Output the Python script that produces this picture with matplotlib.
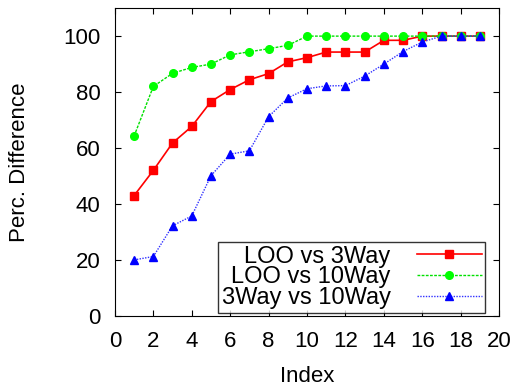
import matplotlib
matplotlib.use("Agg")
import matplotlib.pyplot as plt

index = list(range(1, 20))
loo_3way = [43.0, 52.0, 61.8, 67.7, 76.6, 80.9, 84.4, 86.6, 90.8, 92.3,
            94.3, 94.3, 94.3, 98.5, 98.5, 100, 100, 100, 100]
loo_10way = [64.3, 82.0, 86.7, 88.8, 90.0, 93.3, 94.4, 95.5, 96.7, 100,
             100, 100, 100, 100, 100, 100, 100, 100, 100]
w3_10way = [20.0, 21.2, 32.2, 35.7, 50.1, 57.8, 59.0, 71.2, 77.9, 81.2,
            82.2, 82.3, 85.7, 90.0, 94.5, 97.9, 100, 100, 100]
labels = ["LOO vs 3Way", "LOO vs 10Way", "3Way vs 10Way"]

plt.rcParams['font.family'] = ['Liberation Sans', 'DejaVu Sans']
fig = plt.figure(figsize=(5.13, 3.88), dpi=100)
ax = fig.add_axes([0.224, 0.186, 0.749, 0.793])

ax.plot(index, loo_3way, color='#ff0000', lw=1.2, marker='s', ms=6, label=labels[0])
ax.plot(index, loo_10way, color='#00e000', lw=1.0, ls=(0, (2, 1)), marker='o', ms=5.5,
        markerfacecolor='#00ff00', markeredgecolor='#00ff00', label=labels[1])
ax.plot(index, w3_10way, color='#3030ff', lw=1.0, ls=(0, (1, 1)), marker='^', ms=5.5,
        markerfacecolor='#0000ff', markeredgecolor='#0000ff', label=labels[2])

ax.set_xlim(0, 20)
ax.set_ylim(0, 110)
ax.set_xticks(range(0, 21, 2))
ax.set_yticks(range(0, 101, 20))
ax.tick_params(direction='in', top=True, right=True, labelsize=16, length=4)
ax.tick_params(axis='x', pad=11)
ax.tick_params(axis='y', pad=10.5)
ax.set_xlabel("Index", fontsize=16)
ax.set_ylabel("Perc. Difference", fontsize=16)
ax.xaxis.set_label_coords(0.5, -0.162)
ax.yaxis.set_label_coords(-0.22, 0.5)

leg = ax.legend(loc='lower right', bbox_to_anchor=(0.9635, 0.01), markerfirst=False,
                fontsize=17, handlelength=2.75, frameon=True, fancybox=False,
                edgecolor='black', borderaxespad=0.0, labelspacing=-0.05,
                borderpad=0.15, handletextpad=1.1)
leg.get_frame().set_linewidth(1.0)

fig.savefig("out.png", dpi=100)
